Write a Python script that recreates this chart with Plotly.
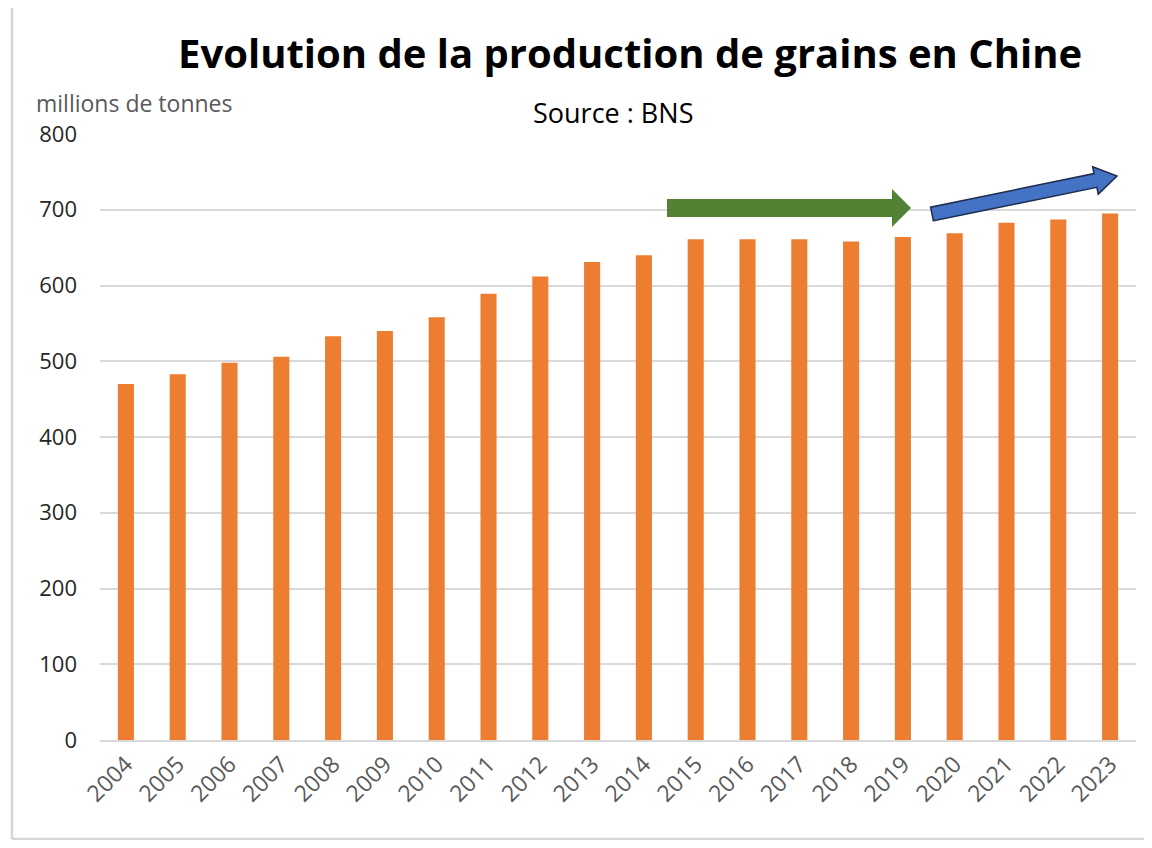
import numpy as np
import plotly.graph_objects as go

years = [str(y) for y in range(2004, 2024)]
production = [470, 483, 498, 506, 533, 540, 558, 589, 612, 631,
              640, 661, 661, 661, 658, 664, 669, 683, 687, 695]
y_ticks = [0, 100, 200, 300, 400, 500, 600, 700, 800]

OFF = 8  # body margin of the html page
W, H = 1152 - 2 * OFF, 848 - 2 * OFF
L, R, T, B = 100 - OFF, 8, 134 - OFF, 108 - OFF
PW, PH = W - L - R, H - T - B


def px2paper(px, py):
    # screen pixel -> paper coords
    return (px - OFF - L) / PW, (H - B - (py - OFF)) / PH


def block_arrow(x0, y0, x1, y1, shaft_hw, head_hw, head_len):
    # polygon of a block arrow, in pixel space, converted to paper coords
    d = np.array([x1 - x0, y1 - y0], dtype=float)
    length = np.hypot(*d)
    u = d / length
    n = np.array([-u[1], u[0]])
    p0 = np.array([x0, y0], dtype=float)
    base = p0 + u * (length - head_len)
    pts = [p0 + n * shaft_hw, base + n * shaft_hw, base + n * head_hw,
           np.array([x1, y1], dtype=float),
           base - n * head_hw, base - n * shaft_hw, p0 - n * shaft_hw]
    pp = [px2paper(*p) for p in pts]
    return "M " + " L ".join(f"{a:.5f},{b:.5f}" for a, b in pp) + " Z"


def frame_line(xa, ya, xb, yb):
    x0, y0 = px2paper(xa, ya)
    x1, y1 = px2paper(xb, yb)
    return dict(type="line", xref="paper", yref="paper", x0=x0, y0=y0, x1=x1, y1=y1,
                line=dict(color="#D6D6D6", width=2.5), layer="below")


fig = go.Figure(go.Bar(
    x=years, y=production,
    marker_color="#ED7D31", marker_line_width=0,
))

shapes = [
    # outer frame (top, left, bottom)
    frame_line(12, 5, 1160, 5),
    frame_line(12, 5, 12, 839),
    frame_line(12, 839, 1160, 839),
    # green arrow (plateau)
    dict(type="path", xref="paper", yref="paper",
         path=block_arrow(667, 208, 911, 208, 9, 19, 19),
         fillcolor="#548235", line=dict(width=0)),
    # blue arrow (rise)
    dict(type="path", xref="paper", yref="paper",
         path=block_arrow(932, 214, 1117, 176, 7, 14, 22),
         fillcolor="#4472C4", line=dict(color="#1F2D4F", width=1.5)),
]

fig.update_layout(
    width=W, height=H,
    margin=dict(l=L, r=R, t=T, b=B),
    plot_bgcolor="white", paper_bgcolor="white",
    font=dict(family="Open Sans", color="#262626"),
    bargap=0.69,
    showlegend=False,
    shapes=shapes,
    xaxis=dict(
        tickangle=-45, tickfont=dict(size=23, color="#595959"),
        showline=True, linecolor="#D9D9D9", linewidth=1.5,
        showgrid=False, ticks="",
    ),
    yaxis=dict(
        range=[0, 800], tickvals=y_ticks, tickfont=dict(size=22, color="#262626"),
        showgrid=True, gridcolor="#D9D9D9", gridwidth=1.5,
        zeroline=False, ticks="", ticklabelstandoff=22,
    ),
    annotations=[
        dict(text="<b>Evolution de la production de grains en Chine</b>",
             xref="paper", yref="paper", x=px2paper(630, 0)[0], y=px2paper(0, 52)[1],
             xanchor="center", yanchor="middle", showarrow=False,
             font=dict(size=40, color="black")),
        dict(text="Source : BNS",
             xref="paper", yref="paper", x=px2paper(613, 0)[0], y=px2paper(0, 113)[1],
             xanchor="center", yanchor="middle", showarrow=False,
             font=dict(size=27, color="black")),
        dict(text="millions de tonnes",
             xref="paper", yref="paper", x=px2paper(34, 0)[0], y=px2paper(0, 103)[1],
             xanchor="left", yanchor="middle", showarrow=False,
             font=dict(size=23, color="#595959")),
    ],
)

fig.write_html("out.html")
